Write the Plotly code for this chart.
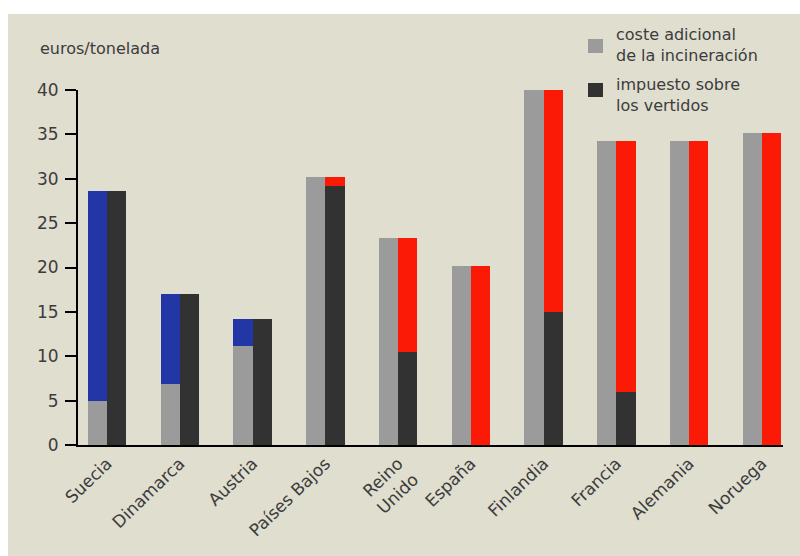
import plotly.graph_objects as go

# Coste por tonelada de residuos (euros/tonelada)
paises = ["Suecia", "Dinamarca", "Austria", "Países Bajos", "Reino<br>Unido",
          "España", "Finlandia", "Francia", "Alemania", "Noruega"]
coste_incineracion = [5.0, 6.9, 11.2, 30.2, 23.3, 20.2, 40.0, 34.3, 34.3, 35.1]
impuesto_vertidos = [28.6, 17.0, 14.2, 29.2, 10.5, 0.0, 15.0, 6.0, 0.0, 0.0]
y_ticks = [0, 5, 10, 15, 20, 25, 30, 35, 40]

GRIS = "#9b9b9b"
OSCURO = "#323232"
AZUL = "#2236a6"
ROJO = "#fb1a06"
FONDO = "#dfdecf"
TEXTO = "#3c3c3c"
FUENTE = "DejaVu Sans"

x = list(range(len(paises)))
W = 0.265

# Diferencia: cuando el impuesto supera al coste (azul, sobre la barra gris)
# y cuando el coste supera al impuesto (rojo, sobre la barra oscura)
dif_azul = [d - g if d > g else None for g, d in zip(coste_incineracion, impuesto_vertidos)]
dif_rojo = [g - d if g > d else None for g, d in zip(coste_incineracion, impuesto_vertidos)]

fig = go.Figure()
fig.add_bar(x=x, y=coste_incineracion, offset=-W, width=W,
            marker=dict(color=GRIS, line_width=0), name="coste adicional de la incineración")
fig.add_bar(x=x, y=dif_azul, base=coste_incineracion, offset=-W, width=W,
            marker=dict(color=AZUL, line_width=0), showlegend=False)
fig.add_bar(x=x, y=impuesto_vertidos, offset=0, width=W,
            marker=dict(color=OSCURO, line_width=0), name="impuesto sobre los vertidos")
fig.add_bar(x=x, y=dif_rojo, base=impuesto_vertidos, offset=0, width=W,
            marker=dict(color=ROJO, line_width=0), showlegend=False)

W_PX, H_PX = 800, 556
M_L, M_R, M_T, M_B = 78, 17, 90, 111
PLOT_W = W_PX - M_L - M_R
PLOT_H = H_PX - M_T - M_B

# conversión de píxeles de la figura a coordenadas "paper" (área de trazado)
def px(xp):
    return (xp - M_L) / PLOT_W

def py(yp):
    return (H_PX - M_B - yp) / PLOT_H

shapes = [
    # fondo crema
    dict(type="rect", xref="paper", yref="paper", x0=px(8), x1=px(800), y0=py(556), y1=py(14),
         fillcolor=FONDO, line_width=0, layer="below"),
    # leyenda
    dict(type="rect", xref="paper", yref="paper", x0=px(588), x1=px(603), y0=py(53), y1=py(39),
         fillcolor=GRIS, line_width=0),
    dict(type="rect", xref="paper", yref="paper", x0=px(588), x1=px(603), y0=py(97), y1=py(83),
         fillcolor=OSCURO, line_width=0),
]

annotations = [
    dict(text="euros/tonelada", xref="paper", yref="paper", x=px(38), y=py(49),
         xanchor="left", yanchor="middle", showarrow=False,
         font=dict(family=FUENTE, size=16, color=TEXTO)),
    dict(text="coste adicional<br>de la incineración", xref="paper", yref="paper",
         x=px(614), y=py(45), xanchor="left", yanchor="middle", showarrow=False, align="left",
         font=dict(family=FUENTE, size=16, color=TEXTO)),
    dict(text="impuesto sobre<br>los vertidos", xref="paper", yref="paper",
         x=px(614), y=py(95), xanchor="left", yanchor="middle", showarrow=False, align="left",
         font=dict(family=FUENTE, size=16, color=TEXTO)),
]

fig.update_layout(
    width=W_PX, height=H_PX,
    margin=dict(l=M_L, r=M_R, t=M_T, b=M_B),
    paper_bgcolor="white", plot_bgcolor="rgba(0,0,0,0)",
    barmode="overlay", bargap=0,
    showlegend=False,
    shapes=shapes, annotations=annotations,
    font=dict(family=FUENTE, color=TEXTO),
)
fig.update_xaxes(
    range=[-0.4, 9.29], tickmode="array", tickvals=x, ticktext=paises,
    tickangle=-44, showgrid=False, zeroline=False,
    showline=True, linecolor="black", linewidth=2, ticks="",
    tickfont=dict(family=FUENTE, size=17, color=TEXTO),
)
fig.update_yaxes(
    range=[0, 40], tickmode="array", tickvals=y_ticks,
    showgrid=False, zeroline=False,
    showline=True, linecolor="black", linewidth=2,
    ticks="outside", ticklen=11, tickwidth=2, tickcolor="black",
    ticklabelstandoff=3,
    tickfont=dict(family=FUENTE, size=17, color=TEXTO),
)

fig.write_html("out.html")
